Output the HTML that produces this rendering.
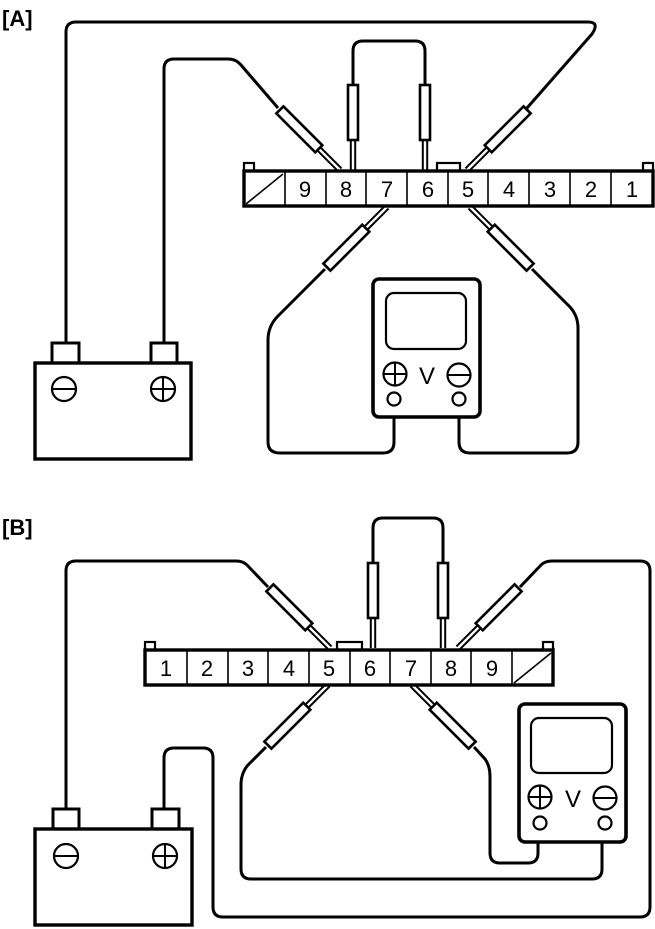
<!DOCTYPE html>
<html><head><meta charset="utf-8"><style>
html,body{margin:0;padding:0;background:#fff;}
svg{display:block;}
text{font-family:"Liberation Sans",sans-serif;}
</style></head><body>
<svg width="655" height="929" viewBox="0 0 655 929" xmlns="http://www.w3.org/2000/svg">
<defs>
<g id="probe">
  <line x1="-2.2" y1="0" x2="-2.2" y2="-30" stroke="#000" stroke-width="2"/>
  <line x1="2.2" y1="0" x2="2.2" y2="-30" stroke="#000" stroke-width="2"/>
  <rect x="-5" y="-85" width="10" height="55" fill="#fff" stroke="#000" stroke-width="2.6"/>
</g>
</defs>

<text x="2" y="26" font-size="22" font-weight="bold">[A]</text>
<text x="2" y="535" font-size="22" font-weight="bold">[B]</text>

<!-- ===== DIAGRAM A ===== -->
<g fill="none" stroke="#000" stroke-width="3" stroke-linejoin="round">
  <path d="M66,343 V32 Q66,22 76,22 H588 Q600,22 592,34 L527,108"/>
  <path d="M164,343 V69 Q164,59 174,59 H228 Q236,59 241,65 L278,108"/>
  <path d="M353,85 V51 Q353,41 363,41 H415 Q425,41 425,51 V85"/>
  <path d="M325,269 L278,316 Q268,326 268,340 V442 Q268,453 280,453 H383 Q394,453 394,442 V405"/>
  <path d="M532,269 L570,307 Q578,316 578,328 V442 Q578,453 567,453 H470 Q459,453 459,442 V405"/>
</g>
<g>
  <use href="#probe" transform="translate(353,170)"/>
  <use href="#probe" transform="translate(425,170)"/>
  <use href="#probe" transform="translate(340,170) rotate(-45)"/>
  <use href="#probe" transform="translate(467,170) rotate(45)"/>
  <use href="#probe" transform="translate(387,207) rotate(-135)"/>
  <use href="#probe" transform="translate(470,207) rotate(135)"/>
</g>
<g>
  <rect x="244" y="163" width="10" height="9" fill="#fff" stroke="#000" stroke-width="2.2"/>
  <rect x="643" y="163" width="10" height="9" fill="#fff" stroke="#000" stroke-width="2.2"/>
  <rect x="437" y="163" width="23" height="8" fill="#fff" stroke="#000" stroke-width="2.2"/>
  <rect x="244" y="171" width="409" height="35" fill="#fff" stroke="#000" stroke-width="3.4"/>
  <g stroke="#000" stroke-width="1.6">
    <line x1="285" y1="172" x2="285" y2="206"/><line x1="326" y1="172" x2="326" y2="206"/>
    <line x1="366" y1="172" x2="366" y2="206"/><line x1="407" y1="172" x2="407" y2="206"/>
    <line x1="448" y1="172" x2="448" y2="206"/><line x1="488" y1="172" x2="488" y2="206"/>
    <line x1="529" y1="172" x2="529" y2="206"/><line x1="570" y1="172" x2="570" y2="206"/>
    <line x1="611" y1="172" x2="611" y2="206"/>
    <line x1="246" y1="204" x2="283" y2="174"/>
  </g>
  <g font-size="22" text-anchor="middle">
    <text x="305" y="197">9</text><text x="346" y="197">8</text><text x="387" y="197">7</text>
    <text x="428" y="197">6</text><text x="468" y="197">5</text><text x="509" y="197">4</text>
    <text x="550" y="197">3</text><text x="591" y="197">2</text><text x="632" y="197">1</text>
  </g>
</g>
<g fill="none" stroke="#000">
  <rect x="373" y="279" width="107" height="138" rx="6" stroke-width="3.6" fill="#fff"/>
  <rect x="386" y="293" width="80" height="56" rx="8" stroke-width="2.2"/>
  <circle cx="395" cy="374" r="11.5" stroke-width="2.2"/>
  <line x1="384" y1="374" x2="406" y2="374" stroke-width="2"/><line x1="395" y1="363" x2="395" y2="385" stroke-width="2"/>
  <circle cx="459" cy="375" r="11.5" stroke-width="2.2"/>
  <line x1="448" y1="375" x2="470" y2="375" stroke-width="2"/>
  <circle cx="394" cy="399" r="6.5" stroke-width="2.2" fill="#fff"/>
  <circle cx="459" cy="399" r="6.5" stroke-width="2.2" fill="#fff"/>
  <text x="427" y="384" font-size="24" text-anchor="middle" fill="#000" stroke="none">V</text>
</g>
<g fill="#fff" stroke="#000">
  <rect x="52" y="343" width="27" height="20" stroke-width="3"/>
  <rect x="151" y="343" width="26" height="20" stroke-width="3"/>
  <rect x="35" y="363" width="156" height="96" stroke-width="3.4"/>
  <circle cx="64" cy="389" r="12" stroke-width="2.2"/><line x1="52" y1="389" x2="76" y2="389" stroke-width="2"/>
  <circle cx="163" cy="389" r="12" stroke-width="2.2"/><line x1="151" y1="389" x2="175" y2="389" stroke-width="2"/><line x1="163" y1="377" x2="163" y2="401" stroke-width="2"/>
</g>

<!-- ===== DIAGRAM B ===== -->
<g fill="none" stroke="#000" stroke-width="3" stroke-linejoin="round">
  <path d="M66,809 V571 Q66,561 76,561 H236 Q243,561 247,565 L268,587"/>
  <path d="M520,587 L541,565 Q545,561 552,561 H640 Q650,561 650,571 V907 Q650,917 640,917 H223 Q213,917 213,907 V758 Q213,748 203,748 H174 Q164,748 164,758 V809"/>
  <path d="M373,563 V528 Q373,518 383,518 H433 Q443,518 443,528 V563"/>
  <path d="M266,747 L248,765 Q241,773 241,785 V869 Q241,879 251,879 H592 Q602,879 602,869 V829"/>
  <path d="M474,747 L485,759 Q490,766 490,776 V853 Q490,863 500,863 H528 Q538,863 538,853 V829"/>
</g>
<g>
  <use href="#probe" transform="translate(373,648)"/>
  <use href="#probe" transform="translate(443,648)"/>
  <use href="#probe" transform="translate(330,648) rotate(-45)"/>
  <use href="#probe" transform="translate(458,648) rotate(45)"/>
  <use href="#probe" transform="translate(328,685) rotate(-135)"/>
  <use href="#probe" transform="translate(412,685) rotate(135)"/>
</g>
<g>
  <rect x="145" y="642" width="10" height="9" fill="#fff" stroke="#000" stroke-width="2.2"/>
  <rect x="543" y="642" width="10" height="9" fill="#fff" stroke="#000" stroke-width="2.2"/>
  <rect x="337" y="642" width="25" height="8" fill="#fff" stroke="#000" stroke-width="2.2"/>
  <rect x="145" y="650" width="408" height="35" fill="#fff" stroke="#000" stroke-width="3.4"/>
  <g stroke="#000" stroke-width="1.6">
    <line x1="187" y1="651" x2="187" y2="685"/><line x1="228" y1="651" x2="228" y2="685"/>
    <line x1="268" y1="651" x2="268" y2="685"/><line x1="309" y1="651" x2="309" y2="685"/>
    <line x1="350" y1="651" x2="350" y2="685"/><line x1="390" y1="651" x2="390" y2="685"/>
    <line x1="431" y1="651" x2="431" y2="685"/><line x1="471" y1="651" x2="471" y2="685"/>
    <line x1="512" y1="651" x2="512" y2="685"/>
    <line x1="514" y1="683" x2="551" y2="653"/>
  </g>
  <g font-size="22" text-anchor="middle">
    <text x="166" y="676">1</text><text x="207" y="676">2</text><text x="248" y="676">3</text>
    <text x="289" y="676">4</text><text x="329" y="676">5</text><text x="370" y="676">6</text>
    <text x="411" y="676">7</text><text x="451" y="676">8</text><text x="492" y="676">9</text>
  </g>
</g>
<g fill="none" stroke="#000">
  <rect x="519" y="704" width="107" height="138" rx="6" stroke-width="3.6" fill="#fff"/>
  <rect x="531" y="718" width="81" height="55" rx="8" stroke-width="2.2"/>
  <circle cx="540" cy="797" r="11.5" stroke-width="2.2"/>
  <line x1="529" y1="797" x2="551" y2="797" stroke-width="2"/><line x1="540" y1="786" x2="540" y2="808" stroke-width="2"/>
  <circle cx="605" cy="798" r="11.5" stroke-width="2.2"/>
  <line x1="594" y1="798" x2="616" y2="798" stroke-width="2"/>
  <circle cx="540" cy="823" r="6.5" stroke-width="2.2" fill="#fff"/>
  <circle cx="605" cy="823" r="6.5" stroke-width="2.2" fill="#fff"/>
  <text x="573" y="807" font-size="24" text-anchor="middle" fill="#000" stroke="none">V</text>
</g>
<g fill="#fff" stroke="#000">
  <rect x="53" y="809" width="26" height="20" stroke-width="3"/>
  <rect x="152" y="809" width="27" height="20" stroke-width="3"/>
  <rect x="35" y="829" width="157" height="96" stroke-width="3.4"/>
  <circle cx="66" cy="856" r="12" stroke-width="2.2"/><line x1="54" y1="856" x2="78" y2="856" stroke-width="2"/>
  <circle cx="165" cy="856" r="12" stroke-width="2.2"/><line x1="153" y1="856" x2="177" y2="856" stroke-width="2"/><line x1="165" y1="844" x2="165" y2="868" stroke-width="2"/>
</g>
</svg>
</body></html>
